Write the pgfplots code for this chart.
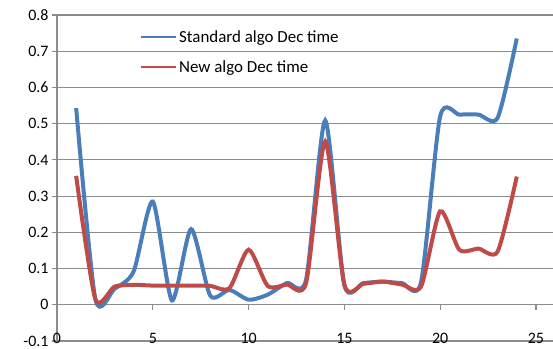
\documentclass[border=0pt]{standalone}
\usepackage{pgfplots}
\pgfplotsset{compat=1.18}
\usepackage{fontspec}
\setmainfont{Carlito}
\definecolor{sblue}{HTML}{4A7EBB}
\definecolor{nred}{HTML}{BE4B48}
\definecolor{gridgray}{HTML}{8C8C8C}
\begin{document}
\begin{tikzpicture}
\begin{axis}[name=ax, scale only axis, width=496bp, height=326bp,
  xmin=0, xmax=25.89, ymin=-0.1, ymax=0.8,
  axis x line=bottom, axis y line=left,
  axis line style={gridgray, line width=1.2bp, -},
  every outer x axis line/.append style={-},
  every outer y axis line/.append style={-},
  xtick={0,5,10,15,20,25},
  ytick={-0.1,0,0.1,0.2,0.3,0.4,0.5,0.6,0.7,0.8},
  ymajorgrids, grid style={gridgray, line width=1.2bp},
  tick align=outside, major tick length=5bp,
  tick style={gridgray, line width=1.2bp},
  xtick style={yshift=36.2bp},
  /pgf/number format/assume math mode=true,
  yticklabel={\pgfmathprintnumber[fixed, precision=1]{\tick}},
  xticklabel={\pgfmathprintnumber{\tick}},
  ticklabel style={font=\fontsize{16}{19}\selectfont, text=black},
  xticklabel style={anchor=center, yshift=8bp},
  legend style={draw=none, fill=none, at={(axis cs:4.33,0.764)}, anchor=north west,
    font=\fontsize{17}{20}\selectfont, row sep=13bp, inner sep=0pt,
    nodes={inner sep=2bp}},
  legend cell align=left,
  legend image code/.code={\draw[#1, line width=2bp] (0bp,0bp) -- (35bp,0bp);},
]
\addplot[sblue, line width=4bp, smooth, tension=0.42] coordinates {
(1,0.543) (2,0.016) (3,0.044) (4,0.092) (5,0.285) (6,0.012) (7,0.209) (8,0.025)
(9,0.041) (10,0.014) (11,0.028) (12,0.06) (13,0.069) (14,0.509) (15,0.055)
(16,0.06) (17,0.064) (18,0.06) (19,0.062) (20,0.52) (21,0.525) (22,0.525)
(23,0.516) (24,0.735)};
\addlegendentry{Standard algo Dec time}
\addplot[nred, line width=4bp, smooth, tension=0.42] coordinates {
(1,0.356) (2,0.016) (3,0.05) (4,0.055) (5,0.053) (6,0.053) (7,0.053) (8,0.052)
(9,0.046) (10,0.152) (11,0.052) (12,0.056) (13,0.06) (14,0.451) (15,0.055)
(16,0.058) (17,0.064) (18,0.056) (19,0.05) (20,0.258) (21,0.152) (22,0.155)
(23,0.147) (24,0.354)};
\addlegendentry{New algo Dec time}
\end{axis}
\pgfresetboundingbox
\path[use as bounding box] ([shift={(-57bp,-8bp)}]ax.south west) rectangle ([shift={(496bp,341bp)}]ax.south west);
\end{tikzpicture}
\end{document}
